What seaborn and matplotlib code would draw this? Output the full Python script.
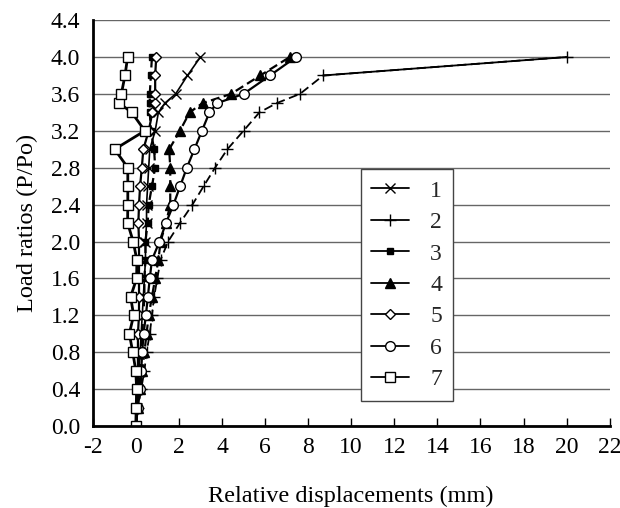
import numpy as np
import pandas as pd
import matplotlib
matplotlib.use("Agg")
import matplotlib.pyplot as plt
import seaborn as sns

loads = [0.0, 0.2, 0.4, 0.6, 0.8, 1.0, 1.2, 1.4, 1.6, 1.8, 2.0, 2.2, 2.4, 2.6,
         2.8, 3.0, 3.2, 3.4, 3.5, 3.6, 3.8, 4.0]

s1 = [0.0, 0.05, 0.1, 0.15, 0.2, 0.25, 0.3, 0.35, 0.4, 0.45, 0.45, 0.5, 0.5,
      0.55, 0.6, 0.65, 0.9, 1.05, 1.35, 1.85, 2.4, 3.0]
s2 = [0.0, 0.1, 0.25, 0.4, 0.5, 0.65, 0.75, 0.85, 1.0, 1.15, 1.5, 2.05, 2.63,
      3.15, 3.68, 4.25, 5.0, 5.74, 6.54, 7.62, 8.7, 20.0]
s3 = [0.0, 0.1, 0.15, 0.2, 0.25, 0.3, 0.35, 0.4, 0.4, 0.45, 0.45, 0.55, 0.6,
      0.75, 0.9, 0.85, 0.7, 0.65, 0.65, 0.65, 0.7, 0.75]
s4 = [0.0, 0.1, 0.2, 0.3, 0.4, 0.5, 0.6, 0.75, 0.9, 1.05, 1.15, 1.4, 1.6,
      1.6, 1.6, 1.55, 2.05, 2.5, 3.1, 4.42, 5.78, 7.15]
s5 = [0.0, 0.05, 0.05, 0.1, 0.1, 0.1, 0.15, 0.15, 0.15, 0.15, 0.15, 0.12, 0.15,
      0.2, 0.28, 0.35, 0.6, 0.77, 0.9, 0.9, 0.9, 0.95]
s6 = [0.0, 0.1, 0.2, 0.25, 0.3, 0.36, 0.47, 0.56, 0.65, 0.75, 1.1, 1.4, 1.75,
      2.06, 2.37, 2.72, 3.07, 3.42, 3.78, 5.0, 6.23, 7.44]
s7 = [0.0, 0.02, 0.04, 0.0, -0.14, -0.3, -0.1, -0.24, 0.04, 0.05, -0.12, -0.38,
      -0.37, -0.37, -0.37, -0.98, 0.42, -0.19, -0.77, -0.67, -0.5, -0.38]

series_names = ["1", "2", "3", "4", "5", "6", "7"]
series_values = [s1, s2, s3, s4, s5, s6, s7]

x_ticks = list(range(-2, 23, 2))
y_ticks = [0.0, 0.4, 0.8, 1.2, 1.6, 2.0, 2.4, 2.8, 3.2, 3.6, 4.0, 4.4]

sns.set_theme(style="white")
plt.rcParams["font.family"] = ["Liberation Serif", "DejaVu Serif"]

fig = plt.figure(figsize=(6.2, 5.08), dpi=100)
ax = fig.add_axes([0.1495, 0.1614, 0.834, 0.799])

styles = {
    "1": dict(marker="x", ms=7, mfc="black", mew=1.0, ls="-", lw=1.2),
    "2": dict(marker="+", ms=8, mfc="black", mew=1.0, ls=(0, (5, 2.5)), lw=1.3),
    "3": dict(marker="s", ms=4.5, mfc="black", mew=1.0, ls=(0, (4, 2)), lw=1.6),
    "4": dict(marker="^", ms=7, mfc="black", mew=1.0, ls=(0, (4, 2)), lw=1.6),
    "5": dict(marker="D", ms=5, mfc="white", mew=1.0, ls="-", lw=1.6),
    "6": dict(marker="o", ms=7, mfc="white", mew=1.0, ls="-", lw=1.6),
    "7": dict(marker="s", ms=7, mfc="white", mew=1.0, ls="-", lw=2.0),
}

for name, vals in zip(series_names, series_values):
    st = styles[name]
    df = pd.DataFrame({"disp": vals, "load": loads})
    if name == "2":
        # last segment appears solid in the reference
        sns.lineplot(data=df.iloc[-2:], x="disp", y="load", sort=False,
                     estimator=None, ax=ax, color="black", lw=1.3, ls="-",
                     legend=False)
    sns.lineplot(data=df, x="disp", y="load", sort=False, estimator=None,
                 ax=ax, color="black",
                 linestyle=st["ls"], linewidth=st["lw"], marker=st["marker"],
                 markersize=st["ms"], markerfacecolor=st["mfc"],
                 markeredgecolor="black", markeredgewidth=st["mew"],
                 label=name)

ax.set_xlim(-2, 22)
ax.set_ylim(0, 4.4)
ax.set_xticks(x_ticks)
ax.set_xticklabels([str(v) for v in x_ticks])
ax.set_yticks(y_ticks)
ax.set_yticklabels([f"{v:.1f}" for v in y_ticks])
ax.yaxis.grid(True, color="#666666", lw=1.0)
ax.xaxis.grid(False)
ax.set_axisbelow(True)
for s in ["top", "right"]:
    ax.spines[s].set_visible(False)
for s in ["left", "bottom"]:
    ax.spines[s].set_color("black")
    ax.spines[s].set_linewidth(2.0)
ax.tick_params(axis="x", direction="in", length=6, width=1, colors="black",
               labelsize=17, pad=8, bottom=True)
ax.tick_params(axis="y", direction="in", length=0, labelsize=17, pad=9,
               colors="black")
ax.set_xlabel("Relative displacements (mm)", fontsize=17.5, labelpad=20,
              color="black")
ax.set_ylabel("Load ratios (P/Po)", fontsize=17.5, labelpad=9, color="black")

leg = ax.legend(loc="upper left", bbox_to_anchor=(0.518, 0.632), fontsize=17,
                frameon=True, fancybox=False, edgecolor="#444444",
                framealpha=1.0, handlelength=1.6, handletextpad=0.9,
                labelspacing=0.42, borderpad=0.45, borderaxespad=0)
leg.get_frame().set_linewidth(1.0)
for h in leg.legend_handles:
    h.set_linestyle("-")
    h.set_linewidth(1.3)

fig.savefig("out.png", dpi=100)
